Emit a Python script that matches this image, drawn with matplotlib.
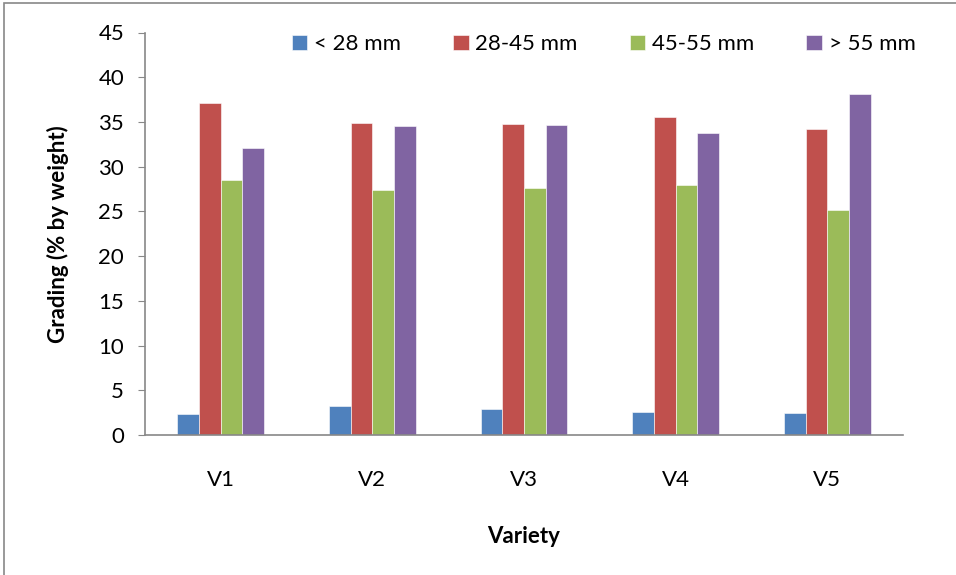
import numpy as np
import matplotlib
matplotlib.use("Agg")
from matplotlib import pyplot as plt
from matplotlib.patches import Rectangle

plt.rcParams['font.family'] = ['Lato', 'DejaVu Sans']

#Grading data per variety:
varieties = ["V1", "V2", "V3", "V4", "V5"]
series_names = ["< 28 mm", "28-45 mm", "45-55 mm", "> 55 mm"]
lt28 = [2.3, 3.2, 2.9, 2.6, 2.5]
g28_45 = [37.1, 34.9, 34.8, 35.6, 34.2]
g45_55 = [28.5, 27.4, 27.6, 28.0, 25.2]
gt55 = [32.1, 34.5, 34.7, 33.8, 38.1]
colors = ["#4F81BD", "#C0504D", "#9BBB59", "#8064A2"]

W, H = 956, 575
fig = plt.figure(figsize=(W/100, H/100), dpi=100)
ax = fig.add_axes([145/W, 1-435/H, (903-145)/W, (435-32.5)/H])

#Outer chart frame:
fig.patches.append(Rectangle((4/W, -0.1), 1.2, 1-3/H+0.1, transform=fig.transFigure,
                             fill=False, edgecolor="#888888", linewidth=1.2))

x = np.arange(len(varieties))
bw = 0.143
for i, (vals, name) in enumerate(zip([lt28, g28_45, g45_55, gt55], series_names)):
	ax.bar(x + (i-1.5)*bw, vals, width=bw, color=colors[i], label=name,
	       edgecolor="white", linewidth=0.4)

ax.set_xlim(-0.5, 4.5)
ax.set_ylim(0, 45)
ax.set_yticks(range(0, 46, 5))
ax.set_xticks(x)
ax.set_xticklabels(varieties)
ax.tick_params(axis='x', length=0, pad=25, labelsize=16)
ax.tick_params(axis='y', length=5, color="#888888", labelsize=16, pad=10)

for s in ["top", "right"]:
	ax.spines[s].set_visible(False)
for s in ["left", "bottom"]:
	ax.spines[s].set_color("#888888")
	ax.spines[s].set_linewidth(1.2)

ax.set_ylabel("Grading (% by weight)", fontsize=16, fontweight="bold", labelpad=21)
ax.set_xlabel("Variety", fontsize=16, fontweight="bold", labelpad=26)

ax.legend(loc="upper right", bbox_to_anchor=(1.043, 1.045), ncol=4, frameon=False,
          fontsize=16, handlelength=0.7, handleheight=0.7, handletextpad=0.3,
          columnspacing=2.35)

fig.savefig("out.png", dpi=100)
